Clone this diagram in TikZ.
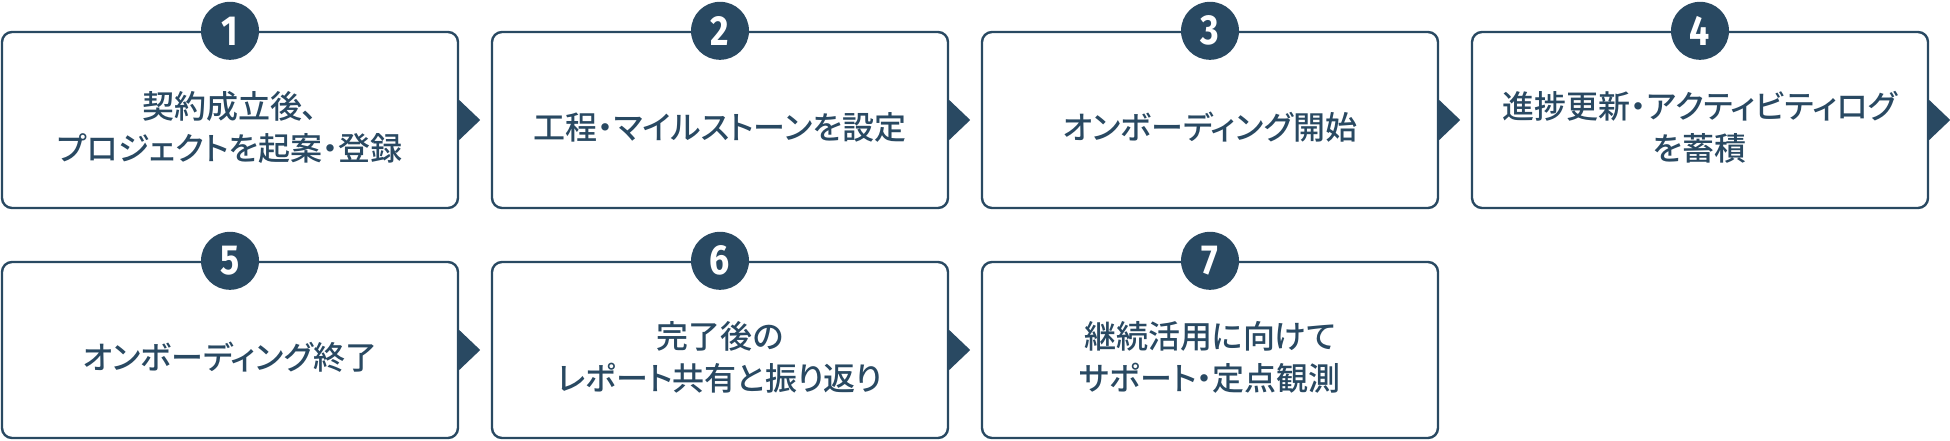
\documentclass[tikz,border=0pt]{standalone}
\usepackage{fontspec}
\newfontfamily\jpfont{Noto Sans CJK JP Medium}[RawFeature=+palt]
\newfontfamily\numfont{Fira Sans}[FakeStretch=0.85]
\definecolor{navy}{RGB}{41,73,98}

\tikzset{
  stepbox/.style={draw=navy, line width=2.4pt, rounded corners=10pt,
    minimum width=456pt, minimum height=176pt, fill=white},
  stepnum/.style={circle, fill=navy, minimum size=58pt, inner sep=0pt,
    text=white, font=\numfont\bfseries\fontsize{42}{42}\selectfont},
  steptext/.style={align=center, text=navy, inner sep=0pt,
    font=\jpfont\fontsize{32}{42}\selectfont},
}

\begin{document}
\begin{tikzpicture}[x=1pt,y=-1pt]
    \useasboundingbox (0,0) rectangle (1950,440);

    % Boxes, numbers and texts
    \foreach \i/\x/\y/\txt in {
        1/230/120/{契約成立後、\\プロジェクトを起案・登録},
        2/720/120/{工程・マイルストーンを設定},
        3/1210/120/{オンボーディング開始},
        4/1700/120/{進捗更新・アクティビティログ\\を蓄積},
        5/230/350/{オンボーディング終了},
        6/720/350/{完了後の\\レポート共有と振り返り},
        7/1210/350/{継続活用に向けて\\サポート・定点観測}}
    {
        \node[stepbox] (s\i) at (\x,\y) {};
        \node[stepnum] (n\i) at (s\i.north) {\i};
        \node[steptext] (t\i) at ([yshift=-7pt]s\i.center) {\txt};
    }

    % Arrows between the steps
    \foreach \i in {1,...,6}
        \fill[navy] (s\i.east) ++(0,-20) -- ++(21,20) -- ++(-21,20) -- cycle;
\end{tikzpicture}
\end{document}
